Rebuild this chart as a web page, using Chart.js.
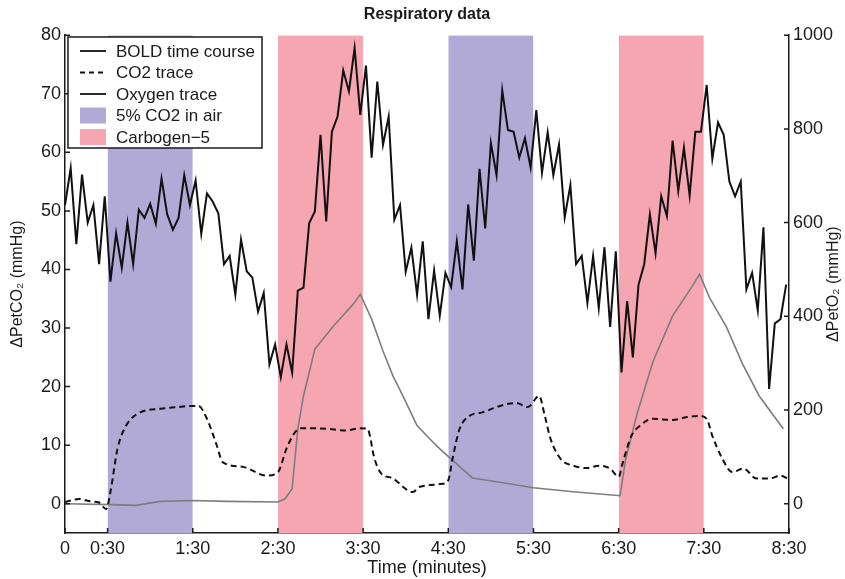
<!DOCTYPE html>
<html>
<head>
<meta charset="utf-8">
<script src="https://cdn.jsdelivr.net/npm/chart.js@4"></script>
<style>
  body { margin: 0; background: #fff; }
</style>
</head>
<body>
<canvas id="chart" width="845" height="579"></canvas>
<script>
// time axis in seconds, labels as in the figure
const xTickValues = [0, 30, 90, 150, 210, 270, 330, 390, 450, 510];
const xTickLabels = ["0", "0:30", "1:30", "2:30", "3:30", "4:30", "5:30", "6:30", "7:30", "8:30"];
const co2Ticks = [0, 10, 20, 30, 40, 50, 60, 70, 80];
const o2Ticks = [0, 200, 400, 600, 800, 1000];

// gas blocks (start, end in seconds)
const blueBands = [[30, 90], [270, 330]];
const pinkBands = [[150, 210], [390, 450]];

// BOLD time course, one sample every 4 s
const boldTimes = [
  0, 4, 8, 12, 16, 20, 24, 28, 32, 36, 40, 44, 48, 52, 56, 60,
  64, 68, 72, 76, 80, 84, 88, 92, 96, 100, 104, 108, 112, 116, 120, 124,
  128, 132, 136, 140, 144, 148, 152, 156, 160, 164, 168, 172, 176, 180, 184, 188,
  192, 196, 200, 204, 208, 212, 216, 220, 224, 228, 232, 236, 240, 244, 248, 252,
  256, 260, 264, 268, 272, 276, 280, 284, 288, 292, 296, 300, 304, 308, 312, 316,
  320, 324, 328, 332, 336, 340, 344, 348, 352, 356, 360, 364, 368, 372, 376, 380,
  384, 388, 392, 396, 400, 404, 408, 412, 416, 420, 424, 428, 432, 436, 440, 444,
  448, 452, 456, 460, 464, 468, 472, 476, 480, 484, 488, 492, 496, 500, 504, 508
];
const boldValues = [
  51, 57.3, 44.3, 56.2, 48, 51, 40.9, 52.5,
  37.9, 46.2, 40.3, 48, 40.9, 50.2, 48.8, 51.2,
  47.8, 55.5, 49.4, 46.8, 48.8, 56.1, 51, 55.2,
  46.1, 53, 51.6, 49.6, 40.9, 42.3, 35.7, 45.1,
  39.7, 38.6, 32.8, 36, 23.8, 27.2, 21.6, 27.2,
  22.4, 36.4, 36.9, 47.9, 49.9, 63, 48.2, 63.5,
  66.1, 74, 70.4, 77.8, 66.4, 74.8, 59.1, 72.1,
  61.3, 66.1, 48.5, 51, 39.6, 43.7, 35.7, 44.8,
  31.5, 39.8, 32.1, 39.4, 37, 44.8, 36.6, 51.1,
  41.5, 57.2, 47, 61.6, 56.1, 70.6, 63.8, 63.5,
  59.1, 62.4, 57.4, 67.2, 56.5, 63.4, 56.1, 61.3,
  48.9, 54.4, 40.9, 42.3, 34.3, 42.3, 33.4, 43.8,
  30.2, 43.1, 22.4, 34.6, 25, 37.4, 40.9, 49.4,
  42.8, 52.5, 49.1, 62, 53.4, 60.8, 52.6, 63.5,
  63.5, 71.5, 58.9, 65.1, 63, 55, 52.5, 55,
  36.6, 39.4, 33, 47.2, 19.6, 30.8, 31.5, 37.4
];

// end-tidal CO2 (mmHg, left axis)
const co2Times = [0, 10, 18, 24, 29, 32, 37, 43, 53, 67, 79, 90, 94, 100, 107, 111, 125, 142, 150, 156,
  162, 166, 184, 198, 208, 213, 218, 222, 231, 245, 250, 266, 270, 273, 278, 285, 294, 304, 311, 318,
  326, 334, 338, 342, 349, 358, 367, 377, 384, 390, 393, 399, 405, 414, 428, 438, 447, 452, 456, 463,
  470, 478, 487, 496, 504, 509];
const co2Values = [0.3, 0.8, 0.4, 0.2, -0.9, 2, 9.4, 13.3, 15.6, 16.2, 16.5, 16.7, 16.7, 14.5, 9.9, 7.1, 6.3, 4.8, 5.4, 9.4,
  12.2, 12.9, 12.8, 12.5, 12.9, 12.8, 7.7, 5.4, 4.3, 2, 2.9, 3.4, 4, 7.7, 12.8, 15, 15.6, 16.5, 17, 17.2,
  16.5, 18.4, 15, 11.1, 7.7, 6.5, 6.1, 6.5, 6, 4.6, 7.1, 11.6, 13.3, 14.5, 14.3, 14.8, 15, 14.5, 11.6, 7.7,
  5.4, 6, 4.3, 4.3, 4.8, 4.3];

// end-tidal O2 (mmHg, right axis)
const o2Times = [0, 32, 50, 67, 90, 114, 150, 155, 160, 164, 168, 176, 189, 203, 208, 216, 224, 231, 238, 248,
  257, 264, 287, 304, 330, 358, 391, 395, 403, 414, 428, 442, 447, 454, 466, 477, 489, 506];
const o2Values = [0, -2, -3.5, 5, 7, 5, 3.6, 10.6, 32, 160, 230, 330, 379, 426, 447, 394, 326, 273, 230, 167,
  138, 117, 55, 47, 34, 25.5, 17, 96, 192, 302, 401, 465, 490, 440, 377, 300, 230, 160];

const blueColor = "#b1aad6";
const pinkColor = "#f5a6b0";
const fontFamily = "'Liberation Sans', Arial, Helvetica, sans-serif";

Chart.defaults.font.family = fontFamily;
Chart.defaults.color = "#1a1a1a";

function toPoints(xs, ys) {
  return xs.map((x, i) => ({ x: x, y: ys[i] }));
}

function bandDataset(range, color) {
  return {
    type: "line",
    data: [{ x: range[0], y: 80 }, { x: range[1], y: 80 }],
    yAxisID: "y",
    backgroundColor: color,
    borderWidth: 0,
    pointRadius: 0,
    fill: "start",
    order: 10
  };
}

const datasets = [
  ...blueBands.map(r => bandDataset(r, blueColor)),
  ...pinkBands.map(r => bandDataset(r, pinkColor)),
  {
    label: "Oxygen trace",
    data: toPoints(o2Times, o2Values),
    yAxisID: "y1",
    borderColor: "#7d7d7d",
    borderWidth: 1.6,
    pointRadius: 0,
    tension: 0,
    fill: false,
    order: 3
  },
  {
    label: "CO2 trace",
    data: toPoints(co2Times, co2Values),
    yAxisID: "y",
    borderColor: "#111",
    borderWidth: 2,
    borderDash: [6, 4],
    pointRadius: 0,
    cubicInterpolationMode: "monotone",
    fill: false,
    order: 2
  },
  {
    label: "BOLD time course",
    data: toPoints(boldTimes, boldValues),
    yAxisID: "y",
    borderColor: "#111",
    borderWidth: 2,
    pointRadius: 0,
    tension: 0,
    fill: false,
    order: 1
  }
];

// MATLAB style ticks pointing into the plot
const inwardTicks = {
  id: "inwardTicks",
  afterDatasetsDraw(chart) {
    const { ctx, chartArea, scales } = chart;
    const len = 5;
    ctx.save();
    ctx.strokeStyle = "#1a1a1a";
    ctx.lineWidth = 1.5;
    ctx.beginPath();
    scales.x.ticks.forEach(t => {
      const px = scales.x.getPixelForValue(t.value);
      ctx.moveTo(px, chartArea.bottom);
      ctx.lineTo(px, chartArea.bottom - len);
    });
    scales.y.ticks.forEach(t => {
      const py = scales.y.getPixelForValue(t.value);
      ctx.moveTo(chartArea.left, py);
      ctx.lineTo(chartArea.left + len, py);
    });
    scales.y1.ticks.forEach(t => {
      const py = scales.y1.getPixelForValue(t.value);
      ctx.moveTo(chartArea.right, py);
      ctx.lineTo(chartArea.right - len, py);
    });
    ctx.stroke();
    ctx.restore();
  }
};

// right axis title reads bottom to top like the left one
const rightTitle = {
  id: "rightTitle",
  afterDraw(chart) {
    const { ctx, chartArea } = chart;
    ctx.save();
    ctx.translate(834, (chartArea.top + chartArea.bottom) / 2);
    ctx.rotate(-Math.PI / 2);
    ctx.font = "16px " + fontFamily;
    ctx.fillStyle = "#1a1a1a";
    ctx.textAlign = "center";
    ctx.textBaseline = "middle";
    ctx.fillText("\u0394PetO\u2082 (mmHg)", 0, 0);
    ctx.restore();
  }
};

// boxed legend inside the top left corner
const boxLegend = {
  id: "boxLegend",
  afterDraw(chart) {
    const { ctx } = chart;
    const entries = [
      { text: "BOLD time course", kind: "line" },
      { text: "CO2 trace", kind: "dash" },
      { text: "Oxygen trace", kind: "line" },
      { text: "5% CO2 in air", kind: "box", color: blueColor },
      { text: "Carbogen\u22125", kind: "box", color: pinkColor }
    ];
    ctx.save();
    ctx.fillStyle = "#fff";
    ctx.fillRect(68, 37, 194, 111);
    ctx.strokeStyle = "#1a1a1a";
    ctx.lineWidth = 1.5;
    ctx.strokeRect(68, 37, 194, 111);
    ctx.font = "17px " + fontFamily;
    ctx.textBaseline = "middle";
    entries.forEach((e, i) => {
      const y = 51 + i * 21.5;
      if (e.kind === "box") {
        ctx.fillStyle = e.color;
        ctx.fillRect(80, y - 8, 26, 16);
      } else {
        ctx.strokeStyle = "#111";
        ctx.lineWidth = 1.8;
        ctx.setLineDash(e.kind === "dash" ? [5, 4] : []);
        ctx.beginPath();
        ctx.moveTo(80, y);
        ctx.lineTo(106, y);
        ctx.stroke();
        ctx.setLineDash([]);
      }
      ctx.fillStyle = "#1a1a1a";
      ctx.fillText(e.text, 116, y + 1);
    });
    ctx.restore();
  }
};

new Chart(document.getElementById("chart").getContext("2d"), {
  type: "line",
  data: { datasets: datasets },
  options: {
    responsive: false,
    animation: false,
    layout: { padding: 0 },
    plugins: {
      legend: { display: false },
      tooltip: { enabled: false },
      title: {
        display: true,
        text: "Respiratory data",
        fullSize: false,
        color: "#1a1a1a",
        font: { size: 16, weight: "bold" },
        padding: { top: 5, bottom: 11 }
      }
    },
    scales: {
      x: {
        type: "linear",
        position: "bottom",
        min: 0,
        max: 510,
        afterBuildTicks: scale => { scale.ticks = xTickValues.map(v => ({ value: v })); },
        afterFit: scale => { scale.height = 46; },
        ticks: {
          autoSkip: false,
          maxRotation: 0,
          padding: 5,
          font: { size: 18 },
          callback: v => xTickLabels[xTickValues.indexOf(v)]
        },
        grid: { display: false, drawTicks: false, tickLength: 0 },
        border: { display: true, color: "#1a1a1a", width: 1.5 },
        title: {
          display: true,
          text: "Time (minutes)",
          font: { size: 18 },
          padding: { top: 0, bottom: 0 }
        }
      },
      y: {
        type: "linear",
        position: "left",
        min: -5,
        max: 80,
        afterBuildTicks: scale => { scale.ticks = co2Ticks.map(v => ({ value: v })); },
        afterFit: scale => { scale.width = 65; },
        ticks: { padding: 4, font: { size: 18 } },
        grid: { display: false, drawTicks: false, tickLength: 0 },
        border: { display: true, color: "#1a1a1a", width: 1.5 },
        title: {
          display: true,
          text: "\u0394PetCO\u2082 (mmHg)",
          font: { size: 16 },
          padding: { top: 8, bottom: 0 }
        }
      },
      y1: {
        type: "linear",
        position: "right",
        min: -62.5,
        max: 1000,
        afterBuildTicks: scale => { scale.ticks = o2Ticks.map(v => ({ value: v })); },
        afterFit: scale => { scale.width = 56; },
        ticks: { padding: 4, font: { size: 18 }, callback: v => String(v) },
        grid: { display: false, drawTicks: false, tickLength: 0 },
        border: { display: true, color: "#1a1a1a", width: 1.5 }
      }
    }
  },
  plugins: [inwardTicks, rightTitle, boxLegend]
});
</script>
</body>
</html>
